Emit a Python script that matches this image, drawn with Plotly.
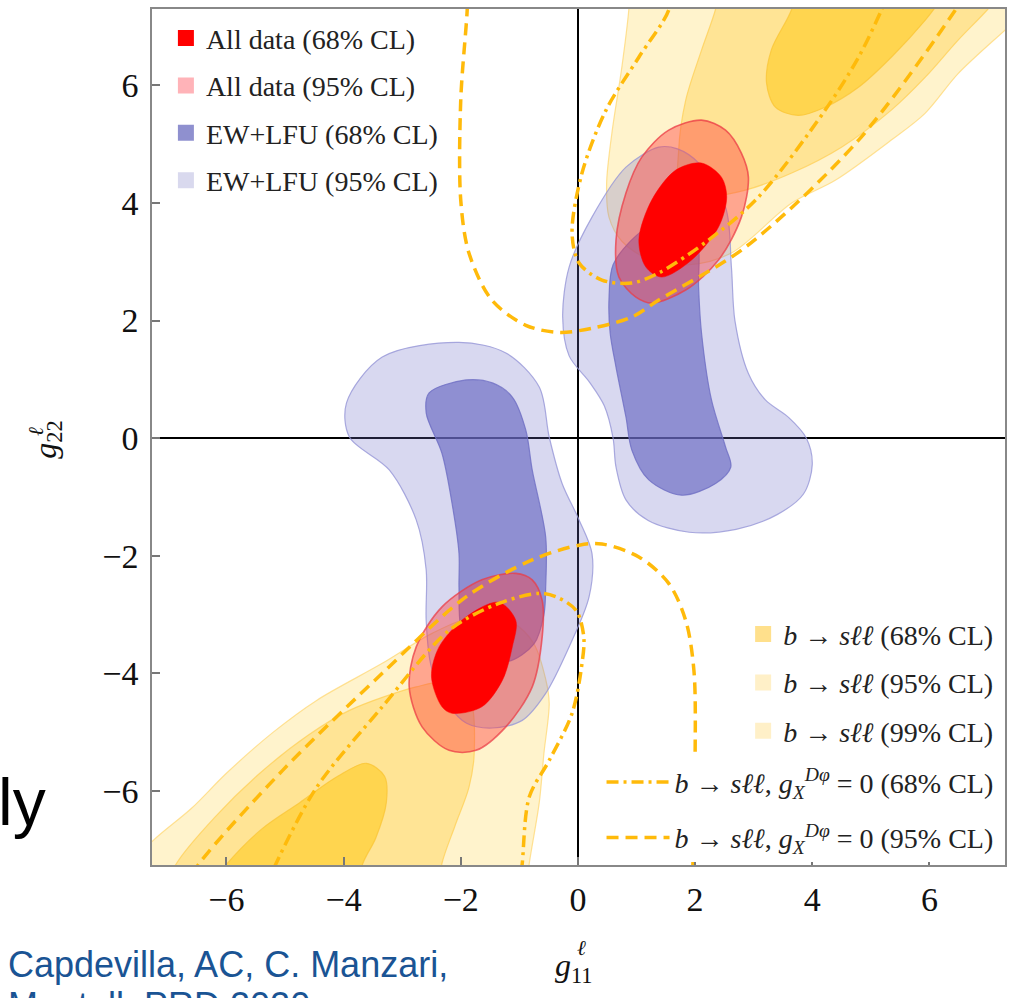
import plotly.graph_objects as go

# ---------------------------------------------------------------------------
# Allowed regions in the (g11^l, g22^l) plane, outlines as (x, y) vertices
# ---------------------------------------------------------------------------

# b -> s l l fit, 99% CL (upper-right and lower-left branches)
bsll99_upper = [(0.9, 7.8), (0.87, 7.3), (0.75, 6.31), (0.58, 5.19), (0.49, 4.33),
                (0.53, 3.76), (0.75, 3.35), (1.2, 3.05), (1.9, 2.95), (2.62, 3.15),
                (3.65, 4.0), (4.4, 4.39), (5.35, 5.07), (5.93, 5.53), (6.49, 6.2),
                (7.29, 6.94), (7.8, 7.4), (7.8, 7.8)]
bsll99_lower = [(-7.8, -7.5), (-7.3, -6.89), (-6.6, -6.3), (-6.0, -5.7), (-5.2, -5.0),
                (-4.46, -4.46), (-3.34, -3.83), (-2.49, -3.32), (-1.8, -3.05),
                (-1.1, -3.15), (-0.75, -3.5), (-0.55, -4.1), (-0.49, -4.51),
                (-0.58, -5.36), (-0.66, -6.2), (-0.83, -7.23), (-0.9, -7.8), (-7.8, -7.8)]

# b -> s l l fit, 95% CL
bsll95_upper = [(2.45, 7.8), (2.35, 7.3), (2.11, 6.6), (1.84, 5.75), (1.72, 4.9),
                (1.75, 4.27), (2.23, 4.12), (2.86, 4.22), (3.65, 4.51), (4.5, 4.95),
                (5.35, 5.58), (5.93, 6.14), (6.49, 6.77), (7.0, 7.3), (7.4, 7.8)]
bsll95_lower = [(-7.1, -7.8), (-6.85, -7.23), (-6.2, -6.45), (-5.43, -5.70),
                (-4.6, -5.05), (-3.9, -4.63), (-2.76, -4.23), (-2.2, -4.15),
                (-1.85, -4.4), (-1.77, -5.36), (-1.86, -5.94), (-2.1, -6.6),
                (-2.32, -7.23), (-2.4, -7.8)]

# b -> s l l fit, 68% CL
bsll68_upper = [(3.75, 7.8), (3.65, 7.3), (3.3, 6.6), (3.22, 6.04), (3.37, 5.63),
                (3.76, 5.49), (4.22, 5.63), (4.79, 5.97), (5.35, 6.48), (5.93, 7.11),
                (6.15, 7.4), (6.4, 7.8)]
bsll68_lower = [(-6.4, -7.8), (-6.0, -7.25), (-5.4, -6.65), (-4.75, -6.2), (-4.1, -5.75),
                (-3.61, -5.53), (-3.3, -5.75), (-3.27, -6.2), (-3.45, -6.8),
                (-3.68, -7.26), (-3.75, -7.8)]

# EW + LFU fit, 95% CL
ewlfu95_upper = [(1.38, 4.95), (0.82, 4.61), (0.24, 3.76), (-0.15, 2.91), (-0.26, 2.06),
                 (-0.15, 1.4), (0.2, 0.95), (0.45, 0.55), (0.6, 0.0), (0.65, -0.49),
                 (0.82, -1.05), (1.2, -1.4), (1.9, -1.6), (2.7, -1.55), (3.4, -1.3),
                 (3.85, -0.95), (4.0, -0.45), (3.9, 0.0), (3.6, 0.35), (3.2, 0.65),
                 (2.91, 1.1), (2.68, 2.0), (2.62, 2.91), (2.52, 3.93), (2.06, 4.68),
                 (1.7, 4.92)]
ewlfu95_lower = [(-2.03, 1.63), (-3.34, 1.38), (-3.95, 0.6), (-3.9, 0.02), (-3.22, -0.54),
                 (-2.76, -1.39), (-2.59, -2.24), (-2.59, -3.1), (-2.5, -3.9),
                 (-2.2, -4.55), (-1.9, -4.85), (-1.46, -4.93), (-0.95, -4.8),
                 (-0.55, -4.34), (-0.15, -3.55), (0.19, -2.7), (0.24, -1.96),
                 (0.02, -1.39), (-0.27, -0.77), (-0.49, 0.02), (-0.66, 0.87),
                 (-1.23, 1.45)]

# EW + LFU fit, 68% CL
ewlfu68_upper = [(1.5, 3.75), (1.0, 3.45), (0.6, 2.95), (0.53, 2.35), (0.55, 1.79),
                 (0.65, 1.21), (0.82, 0.36), (0.92, -0.2), (1.21, -0.71), (1.77, -0.97),
                 (2.35, -0.77), (2.61, -0.49), (2.52, -0.15), (2.28, 0.65), (2.11, 1.79),
                 (2.06, 2.57), (2.05, 3.3), (1.85, 3.7)]
ewlfu68_lower = [(-1.91, 0.99), (-2.54, 0.77), (-2.59, 0.43), (-2.32, -0.26),
                 (-2.15, -1.1), (-2.03, -1.96), (-2.03, -2.53), (-2.0, -3.2),
                 (-1.8, -3.65), (-1.2, -3.8), (-0.75, -3.5), (-0.58, -3.0),
                 (-0.55, -2.53), (-0.55, -1.68), (-0.78, -0.54), (-0.89, 0.14),
                 (-1.12, 0.7), (-1.46, 0.94)]

# All data, 95% CL
all95_upper = [(2.11, 5.41), (1.55, 5.24), (1.09, 4.78), (0.82, 4.17), (0.65, 3.37),
               (0.7, 2.74), (0.99, 2.4), (1.26, 2.3), (1.84, 2.52), (2.4, 3.03),
               (2.79, 3.76), (2.91, 4.44), (2.79, 4.85), (2.52, 5.24)]
all95_lower = [(-1.06, -2.3), (-1.64, -2.41), (-2.32, -2.87), (-2.76, -3.55),
               (-2.88, -4.23), (-2.66, -4.91), (-2.2, -5.31), (-1.74, -5.31),
               (-1.23, -4.91), (-0.78, -4.23), (-0.61, -3.38), (-0.61, -2.76),
               (-0.78, -2.41)]

# All data, 68% CL
all68_upper = [(2.11, 4.68), (1.67, 4.56), (1.26, 4.05), (1.04, 3.37), (1.16, 2.91),
               (1.43, 2.74), (1.94, 3.03), (2.4, 3.59), (2.54, 4.1), (2.45, 4.44)]
all68_lower = [(-1.35, -2.79), (-1.91, -3.04), (-2.37, -3.55), (-2.5, -4.06),
               (-2.32, -4.57), (-2.15, -4.68), (-1.64, -4.57), (-1.29, -4.12),
               (-1.12, -3.55), (-1.06, -3.1)]

# b -> s l l with g_X^{D phi} = 0: open contour curves
gx0_68_upper = [(1.6, 7.7), (1.55, 7.28), (1.04, 6.48), (0.48, 5.58), (0.07, 4.51),
                (-0.1, 3.49), (0.02, 2.98), (0.41, 2.69), (0.92, 2.64), (1.38, 2.81),
                (2.23, 3.37), (3.08, 4.1), (4.22, 5.58), (4.79, 6.48), (5.18, 7.28),
                (5.35, 7.7)]
gx0_68_lower = [(-5.35, -7.7), (-5.15, -7.23), (-4.46, -5.94), (-3.34, -4.57),
                (-2.2, -3.27), (-1.35, -2.81), (-0.66, -2.64), (-0.37, -2.7),
                (-0.03, -2.93), (0.1, -3.38), (0.07, -3.83), (-0.1, -4.68),
                (-0.49, -5.48), (-0.83, -6.1), (-0.95, -7.23), (-1.0, -7.7)]
gx0_95_upper = [(-1.88, 7.7), (-1.89, 7.28), (-2.0, 5.75), (-2.0, 4.05), (-1.86, 3.15),
                (-1.47, 2.35), (-0.89, 1.92), (-0.32, 1.8), (0.24, 1.87), (0.92, 2.06),
                (1.38, 2.35), (2.86, 3.25), (4.79, 5.07), (6.44, 7.28), (6.7, 7.7)]
gx0_95_lower = [(-6.75, -7.7), (-6.46, -7.23), (-5.04, -5.65), (-3.34, -4.0),
                (-1.91, -2.7), (-0.78, -2.07), (0.02, -1.82), (0.41, -1.8),
                (1.04, -2.02), (1.55, -2.47), (1.84, -3.1), (1.98, -3.95),
                (2.0, -5.48), (1.95, -7.7)]

# ---------------------------------------------------------------------------
SERIF = "Liberation Serif"
AMBER = "#FFBA0A"

fig = go.Figure()


def add_region(pts, fill, edge, width=1.2):
    xs = [p[0] for p in pts] + [pts[0][0]]
    ys = [p[1] for p in pts] + [pts[0][1]]
    fig.add_trace(go.Scatter(
        x=xs, y=ys, mode="lines", fill="toself", fillcolor=fill,
        line=dict(color=edge, width=width, shape="spline", smoothing=0.9),
        hoverinfo="skip", showlegend=False))


def add_curve(parts, name, dash, group):
    xs, ys = [], []
    for k, pts in enumerate(parts):
        if k:
            xs.append(None)
            ys.append(None)
        xs += [p[0] for p in pts]
        ys += [p[1] for p in pts]
    fig.add_trace(go.Scatter(
        x=xs, y=ys, mode="lines", name=name, legend="legend3", legendgroup=group,
        line=dict(color=AMBER, width=3.5, dash=dash, shape="spline", smoothing=0.9),
        hoverinfo="skip"))


def add_key(name, color, legend, group):
    fig.add_trace(go.Scatter(
        x=[None], y=[None], mode="markers", name=name, legend=legend,
        legendgroup=group,
        marker=dict(symbol="square", size=16, color=color, line=dict(width=0))))


# yellow b -> s l l regions
for pts in (bsll99_upper, bsll99_lower):
    add_region(pts, "#FFF3CC", "rgba(255,214,110,0.7)")
for pts in (bsll95_upper, bsll95_lower):
    add_region(pts, "#FFE495", "rgba(255,205,80,0.7)")
for pts in (bsll68_upper, bsll68_lower):
    add_region(pts, "#FFD54F", "rgba(250,195,50,0.7)")

# EW + LFU regions
for pts in (ewlfu95_upper, ewlfu95_lower):
    add_region(pts, "rgba(110,110,200,0.27)", "rgba(150,150,215,0.8)")
for pts in (ewlfu68_upper, ewlfu68_lower):
    add_region(pts, "rgba(105,105,195,0.66)", "rgba(110,110,195,0.8)")

# combined fit
for pts in (all95_upper, all95_lower):
    add_region(pts, "rgba(255,60,60,0.42)", "rgba(235,60,70,0.75)", 1.6)
for pts in (all68_upper, all68_lower):
    add_region(pts, "#FF0000", "#FF0000", 0.5)

# g_X^{D phi} = 0 contours
GX_LABEL = "<i>b</i> → <i>sℓℓ</i>, <i>g</i><sub><i>X</i></sub><sup><i>Dφ</i></sup> = 0"
add_curve([gx0_68_upper, gx0_68_lower], GX_LABEL + " (68% CL)", "12px,5px,3px,5px", "g68")
add_curve([gx0_95_upper, gx0_95_lower], GX_LABEL + " (95% CL)", "12px,7px", "g95")

# legend keys
add_key("All data (68% CL)", "#FF0000", "legend", "a68")
add_key("All data (95% CL)", "#FFB3B8", "legend", "a95")
add_key("EW+LFU (68% CL)", "#8F90CF", "legend", "e68")
add_key("EW+LFU (95% CL)", "#D9D9EE", "legend", "e95")
add_key("<i>b</i> → <i>sℓℓ</i> (68% CL)", "#FFE08C", "legend2", "b68")
add_key("<i>b</i> → <i>sℓℓ</i> (95% CL)", "#FFF0C8", "legend2", "b95")
add_key("<i>b</i> → <i>sℓℓ</i> (99% CL)", "#FFF0C8", "legend2", "b99")

axis_common = dict(
    ticks="inside", ticklen=8, tickwidth=1.5, tickcolor="#777",
    showline=True, linecolor="#888", linewidth=1.5, mirror=True,
    showgrid=False, zeroline=True, zerolinecolor="black", zerolinewidth=1.5,
    tickvals=[-6, -4, -2, 0, 2, 4, 6],
    tickfont=dict(family=SERIF, size=34, color="#111"),
)

legend_font = dict(family=SERIF, size=28, color="#222")

fig.update_layout(
    width=1014, height=998,
    margin=dict(l=152, r=7, t=9, b=133),
    paper_bgcolor="white", plot_bgcolor="white",
    showlegend=True,
    xaxis=dict(range=[-7.27, 7.29], ticklabelstandoff=3, **axis_common),
    yaxis=dict(range=[-7.26, 7.30], ticklabelstandoff=5, **axis_common),
    legend=dict(x=0.0163, y=0.995, xanchor="left", yanchor="top",
                bgcolor="rgba(0,0,0,0)", font=legend_font, tracegroupgap=8,
                itemclick=False, itemdoubleclick=False),
    legend2=dict(x=0.693, y=0.2987, xanchor="left", yanchor="top",
                 bgcolor="rgba(0,0,0,0)", font=legend_font, tracegroupgap=9,
                 itemclick=False, itemdoubleclick=False),
    legend3=dict(x=0.527, y=0.1258, xanchor="left", yanchor="top",
                 bgcolor="white", font=legend_font, tracegroupgap=16,
                 itemwidth=63, itemclick=False, itemdoubleclick=False),
)

# axis titles
fig.add_annotation(text="<i>g</i><sub>11</sub>", xref="paper", yref="paper",
                   x=0.4947, y=-0.1203, xanchor="center", yanchor="middle",
                   showarrow=False, font=dict(family=SERIF, size=32, color="#111"))
fig.add_annotation(text="<i>ℓ</i>", xref="paper", yref="paper",
                   x=0.503, y=-0.097, xanchor="center", yanchor="middle",
                   showarrow=False, font=dict(family=SERIF, size=21, color="#111"))
fig.add_annotation(text="<i>g</i><sub>22</sub>", xref="paper", yref="paper",
                   x=-0.123, y=0.497, xanchor="center", yanchor="middle", textangle=-90,
                   showarrow=False, font=dict(family=SERIF, size=32, color="#111"))
fig.add_annotation(text="<i>ℓ</i>", xref="paper", yref="paper",
                   x=-0.136, y=0.507, xanchor="center", yanchor="middle", textangle=-90,
                   showarrow=False, font=dict(family=SERIF, size=21, color="#111"))

# slide remnants around the figure
fig.add_annotation(text="ly", xref="paper", yref="paper", x=-0.1825, y=0.0736,
                   xanchor="left", yanchor="middle", showarrow=False,
                   font=dict(family="Liberation Sans", size=66, color="black"))
fig.add_annotation(text="Capdevilla, AC, C. Manzari,", xref="paper", yref="paper",
                   x=-0.1708, y=-0.1168, xanchor="left", yanchor="middle", showarrow=False,
                   font=dict(family="Liberation Sans", size=36, color="#1A5494"))
fig.add_annotation(text="Montull, PRD 2020", xref="paper", yref="paper",
                   x=-0.1708, y=-0.1636, xanchor="left", yanchor="middle", showarrow=False,
                   font=dict(family="Liberation Sans", size=36, color="#1A5494"))

fig.write_html("out.html")
